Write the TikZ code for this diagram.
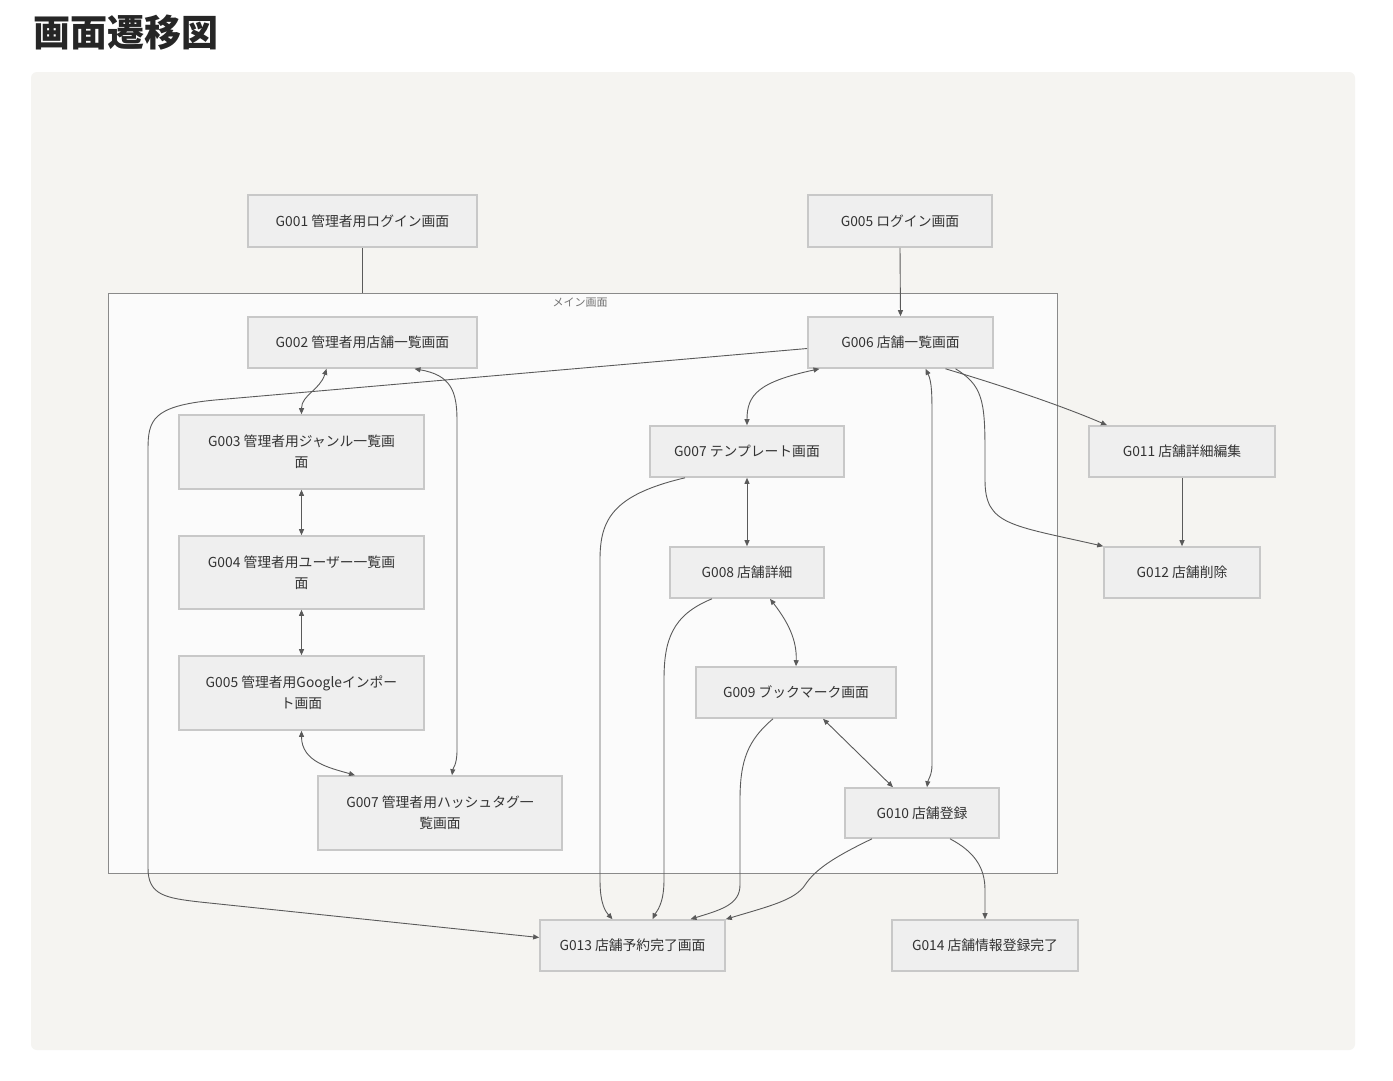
\documentclass[tikz,border=0pt]{standalone}
\usepackage{fontspec}
\setmainfont{Noto Sans CJK JP}
\usetikzlibrary{arrows.meta}
\definecolor{panelbg}{HTML}{F5F4F1}
\definecolor{boxfill}{HTML}{EFEFEF}
\definecolor{boxline}{HTML}{C8C8C8}
\definecolor{edgec}{HTML}{5A5A5A}
\definecolor{clusterfill}{HTML}{FBFBFB}
\definecolor{clusterline}{HTML}{8A8A8A}
\definecolor{txt}{HTML}{333333}
\tikzset{
  box/.style={draw=boxline, line width=1.6pt, fill=boxfill, rectangle, inner sep=0pt,
    font=\fontsize{13.8}{21}\selectfont, text=txt, align=center},
  cluster/.style={draw=clusterline, line width=1pt, fill=clusterfill, rectangle, inner sep=0pt},
  edge/.style={draw=edgec, line width=0.9pt, -{Triangle[length=6pt,width=5pt]}},
  bedge/.style={draw=edgec, line width=0.9pt, {Triangle[length=6pt,width=5pt]}-{Triangle[length=6pt,width=5pt]}},
  pedge/.style={draw=edgec, line width=0.9pt}
}
\begin{document}
\begin{tikzpicture}[x=1pt,y=-1pt]
\useasboundingbox[fill=white] (0,0) rectangle (1393,1080);
\fill[panelbg, rounded corners=6pt] (31,72) rectangle (1355,1050);
\node[anchor=west, inner sep=0pt, font=\fontsize{37}{42}\selectfont\bfseries, text=black!85] (title) at (33,33) {画面遷移図};

% cluster
\node[cluster, minimum width=949pt, minimum height=580pt] (sub) at (582.5,583) {};
\node[fill=clusterfill, inner sep=0pt, minimum width=95pt, minimum height=16pt,
      font=\fontsize{11}{13}\selectfont, text=black!55] (sublabel) at (580,303) {メイン画面};

% nodes
\node[box, minimum width=229pt, minimum height=52pt] (A) at (362.5,221) {G001 管理者用ログイン画面};
\node[box, minimum width=184pt, minimum height=52pt] (B) at (900,221) {G005 ログイン画面};
\node[box, minimum width=229pt, minimum height=51pt] (C) at (362.5,342.5) {G002 管理者用店舗一覧画面};
\node[box, minimum width=185pt, minimum height=51pt] (D) at (900.5,342.5) {G006 店舗一覧画面};
\node[box, minimum width=245pt, minimum height=74pt] (E) at (301.5,452) {G003 管理者用ジャンル一覧画\\面};
\node[box, minimum width=245pt, minimum height=73pt] (F) at (301.5,572.5) {G004 管理者用ユーザー一覧画\\面};
\node[box, minimum width=245pt, minimum height=74pt] (G) at (301.5,693) {G005 管理者用Googleインポー\\ト画面};
\node[box, minimum width=244pt, minimum height=74pt] (H) at (440,813) {G007 管理者用ハッシュタグ一\\覧画面};
\node[box, minimum width=194pt, minimum height=51pt] (I) at (747,451.5) {G007 テンプレート画面};
\node[box, minimum width=154pt, minimum height=51pt] (J) at (747,572.5) {G008 店舗詳細};
\node[box, minimum width=200pt, minimum height=51pt] (K) at (796,692.5) {G009 ブックマーク画面};
\node[box, minimum width=154pt, minimum height=50pt] (L) at (922,813) {G010 店舗登録};
\node[box, minimum width=186pt, minimum height=51pt] (M) at (1182,451.5) {G011 店舗詳細編集};
\node[box, minimum width=156pt, minimum height=51pt] (N) at (1182,572.5) {G012 店舗削除};
\node[box, minimum width=185pt, minimum height=51pt] (O) at (632.5,945.5) {G013 店舗予約完了画面};
\node[box, minimum width=186pt, minimum height=51pt] (P) at (985,945.5) {G014 店舗情報登録完了};

% edges
\draw[pedge] (A.south) -- (A.south |- sub.north);
\draw[edge] (B.south) -- (D.north);
\draw[bedge] ([xshift=-36pt]C.south) .. controls (320,390) and (301.5,395) .. (E.north);
\draw[bedge] ([xshift=52pt]C.south) .. controls (450,375) and (457,390) .. (457,420) -- (457,750) .. controls (457,765) and (453,768) .. ([xshift=12pt]H.north);
\draw[bedge] (E.south) -- (F.north);
\draw[bedge] (F.south) -- (G.north);
\draw[bedge] (G.south) .. controls (301.5,762) and (330,768) .. ([xshift=-85pt]H.north);
\draw[edge] ([yshift=-6pt]D.west) -- (215,400) .. controls (152,406) and (148,420) .. (148,450) -- (148,868) .. controls (148,895) and (165,898) .. (200,902) -- ([yshift=8pt]O.west);
\draw[bedge] ([xshift=-81pt]D.south) .. controls (758,382) and (747,395) .. (I.north);
\draw[bedge] ([xshift=25pt]D.south) .. controls (932,382) and (932,395) .. (932,420) -- (932,765) .. controls (932,775) and (928,780) .. ([xshift=5pt]L.north);
\draw[edge] ([xshift=45pt]D.south) .. controls (1000,385) and (1060,405) .. ([xshift=-75pt]M.north);
\draw[edge] ([xshift=55pt]D.south) .. controls (982,385) and (985,400) .. (985,450) -- (985,480) .. controls (985,525) and (1010,525) .. (N.north west);
\draw[edge] (M.south) -- (N.north);
\draw[bedge] (I.south) -- (J.north);
\draw[edge] ([xshift=-62pt]I.south) .. controls (612,495) and (600,520) .. (600,560) -- (600,880) .. controls (600,905) and (606,912) .. ([xshift=-20pt]O.north);
\draw[edge] ([xshift=-35pt]J.south) .. controls (672,615) and (664,640) .. (664,680) -- (664,880) .. controls (664,905) and (656,912) .. ([xshift=20pt]O.north);
\draw[bedge] ([xshift=23pt]J.south) .. controls (788,622) and (797,640) .. (K.north);
\draw[edge] ([xshift=-23pt]K.south) .. controls (748,740) and (740,760) .. (740,800) -- (740,885) .. controls (740,905) and (720,910) .. ([xshift=58pt]O.north);
\draw[bedge] ([xshift=27pt]K.south) -- ([xshift=-29pt]L.north);
\draw[edge] ([xshift=-50pt]L.south) .. controls (832,858) and (815,870) .. (805,885) .. controls (795,900) and (770,906) .. (O.north east);
\draw[edge] ([xshift=28pt]L.south) .. controls (975,852) and (985,868) .. (985,890) -- (P.north);
\end{tikzpicture}
\end{document}
